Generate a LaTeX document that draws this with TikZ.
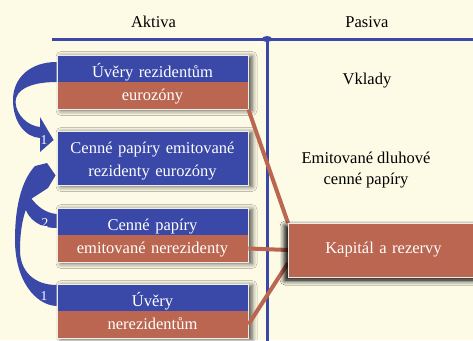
\documentclass[tikz,border=0pt]{standalone}
\usepackage{fontspec}
\setmainfont{Liberation Serif}
\usetikzlibrary{shadows.blur}
\definecolor{bgcol}{HTML}{FDFBE5}
\definecolor{boxblue}{HTML}{3A48A8}
\definecolor{boxred}{HTML}{BB6650}
\newcommand{\boxw}[0] {191pt}
\newcommand{\fsz}[0] {\fontsize{16.5}{23}\selectfont}

\tikzset{
  abox/.style={draw=white!85!gray, line width=0.8pt, fill=boxblue, text=white,
    text width=\boxw, inner sep=0pt, align=center, font=\fsz,
    blur shadow={shadow xshift=4pt, shadow yshift=-1.5pt, shadow blur radius=5pt, shadow opacity=70}},
  halfbox/.style={abox, path picture={
    \fill[boxred] (path picture bounding box.west) rectangle (path picture bounding box.south east);}},
  kbox/.style={abox, fill=boxred, minimum height=54pt,
    blur shadow={shadow xshift=-3pt, shadow yshift=-3pt, shadow blur radius=5pt, shadow opacity=70}},
  flow/.style={fill=boxblue},
  link/.style={draw=boxred, line width=4pt},
  frame/.style={draw=boxblue, line width=3pt},
  num/.style={text=white, font=\fontsize{13.5}{14}\selectfont, inner sep=0pt},
  plain/.style={align=center, font=\fontsize{16.5}{21}\selectfont, inner sep=0pt}
}

\begin{document}
\begin{tikzpicture}[x=1pt, y=-1pt]
        \fill[bgcol] (0,0) rectangle (473,340);
        \useasboundingbox (0,0) rectangle (473,340);

        %aktiva / pasiva
        \node[plain] (akt) at (153.5,22) {Aktiva};
        \node[plain] (pas) at (367,22) {Pasiva};
        \draw[frame] (52,39) -- (478,39);
        \draw[frame] (267,37) -- (267,345);
        \fill[boxblue] (267,39) ellipse (5pt and 3pt);

        %boxes of aktiva
        \node[halfbox] (u1) at (152.5,82) {\rule{0pt}{22pt}Úvěry rezidentům\\eurozóny\rule[-9pt]{0pt}{9pt}};
        \node[abox] (cp1) at (152.5,158) {\rule{0pt}{22pt}Cenné papíry emitované\\rezidenty eurozóny\rule[-9pt]{0pt}{9pt}};
        \node[halfbox] (cp2) at (152.5,235) {\rule{0pt}{22pt}Cenné papíry\\emitované nerezidenty\rule[-9pt]{0pt}{9pt}};
        \node[halfbox] (u2) at (152.5,311) {\rule{0pt}{22pt}Úvěry\\nerezidentům\rule[-9pt]{0pt}{9pt}};

        %arrows on the left
        \fill[flow] (u1.west) .. controls (30,82) and (15.5,90) .. (15.5,102)
            .. controls (16,115) and (28,126) .. (40,127) -- (40,117)
            -- ([xshift=-3pt,yshift=18pt]cp1.west) -- (40,152) -- (40,138)
            .. controls (25,137) and (13,122) .. (13,100)
            .. controls (13,78) and (30,62) .. ([yshift=20pt]u1.west) -- cycle;
        \fill[flow] ([yshift=26pt]u2.west) .. controls (35,285) and (20,272) .. (20,250)
            .. controls (20,228) and (24,210) .. (31,199) -- (48,188)
            -- ([xshift=-1pt,yshift=10pt]cp1.south west) -- (47,163) -- (35,166)
            .. controls (24,178) and (15,200) .. (15,240)
            .. controls (15,280) and (35,305) .. ([yshift=5pt]u2.west) -- cycle;
        \fill[flow] ([yshift=21pt]cp2.west) .. controls (45,213) and (37,206) .. (31,198)
            -- (24,205) .. controls (28,220) and (40,228) .. ([yshift=7pt]cp2.west) -- cycle;
        \node[num] (n1) at (44,140) {1};
        \node[num] (n2) at (45,223) {2};
        \node[num] (n3) at (44,296) {1};

        %links to kapital
        \draw[link] (u1.south east) -- (288,223);
        \draw[link] ([yshift=-13.5pt]cp2.east) -- (288,250);
        \draw[link] ([yshift=-13.5pt]u2.east) -- (288,263);
        \node[kbox] (kap) at (383.5,250) {Kapitál a rezervy};

        %pasiva texts
        \node[plain] (vkl) at (367,81) {Vklady};
        \node[plain] (emi) at (366,170) {Emitované dluhové\\cenné papíry};
\end{tikzpicture}
\end{document}
